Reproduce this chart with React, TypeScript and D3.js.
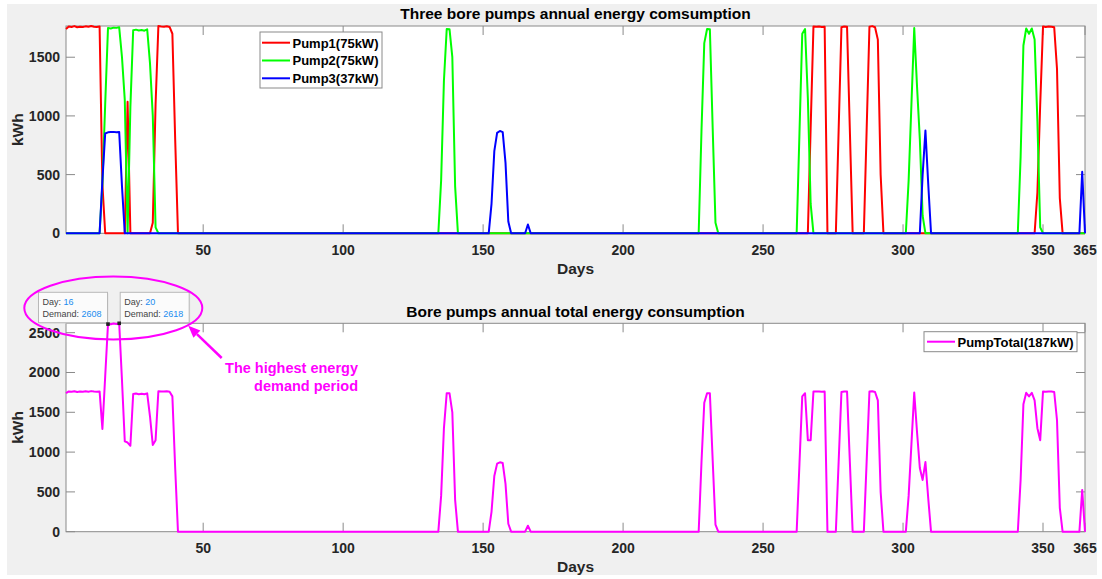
import React from 'react';
import * as d3 from 'd3';

const W = 1102;
const H = 579;

// runs of non-zero daily kWh: [first day, values for consecutive days]
const pump1Runs: [number, number[]][] = [
  [1, [1740, 1762, 1758, 1765, 1755, 1760, 1757, 1763, 1759, 1766, 1760, 1758, 1762, 420]],
  [23, [1120]],
  [32, [90, 1100, 1765, 1762, 1760, 1764, 1758, 1700, 800]],
  [267, [900, 1761, 1760, 1762, 1758, 1760]],
  [277, [880, 1755, 1762, 1760, 880]],
  [287, [880, 1760, 1765, 1755, 1650, 500]],
  [348, [350, 1100, 1761, 1758, 1762, 1760, 1755, 1400, 300]],
];
const pump2Runs: [number, number[]][] = [
  [14, [420, 1100, 1748, 1745, 1752, 1750, 1755, 1500, 1134]],
  [24, [1079, 1730, 1735, 1728, 1732, 1726, 1738, 1450, 1000, 50]],
  [135, [450, 1300, 1740, 1738, 1500, 400]],
  [228, [870, 1620, 1740, 1738, 900, 90]],
  [263, [850, 1700, 1740, 1150, 250]],
  [302, [450, 1100, 1748, 1250, 800, 150]],
  [342, [650, 1600, 1745, 1700, 1745, 1650, 950, 50]],
];
const pump3Runs: [number, number[]][] = [
  [14, [450, 850, 860, 862, 864, 860, 863, 400]],
  [153, [250, 700, 855, 872, 862, 600, 100]],
  [166, [75]],
  [307, [500, 875, 420]],
  [364, [525]],
];

const pumpNames = ['Pump1(75kW)', 'Pump2(75kW)', 'Pump3(37kW)'];
const pumpColors = ['#ff0000', '#00ff00', '#0000ff'];
const totalName = 'PumpTotal(187kW)';
const totalColor = '#ff00ff';
const xTicks = [50, 100, 150, 200, 250, 300, 350, 365];
const yTicksTop = [0, 500, 1000, 1500];
const yTicksBottom = [0, 500, 1000, 1500, 2000, 2500];
const tipDays = [16, 20];

const days = d3.range(1, 366);
function expand(runs: [number, number[]][]) {
  const arr = days.map(() => 0);
  runs.forEach(([start, vals]) => vals.forEach((v, i) => (arr[start - 1 + i] = v)));
  return arr;
}
const pumps = [expand(pump1Runs), expand(pump2Runs), expand(pump3Runs)];
const total = days.map((d, i) => pumps[0][i] + pumps[1][i] + pumps[2][i]);

const FONT = "Arial, 'Liberation Sans', Helvetica, sans-serif";
const AX = '#8a8a8a';
const TXT = '#262626';
const L = 66, R = 1085;

const x = d3.scaleLinear().domain([1, 365]).range([L, R]);

function Frame({ y, top, bottom, ticks, title, titleY }: any) {
  const tl = 9;
  return (
    <g>
      <rect x={L} y={top} width={R - L} height={bottom - top} fill="#fff" />
      <rect x={L} y={top} width={R - L} height={bottom - top} fill="none" stroke={AX} strokeWidth={1} />
      {xTicks.map((t) => (
        <g key={'x' + t}>
          <line x1={x(t)} x2={x(t)} y1={bottom} y2={bottom - tl} stroke={AX} />
          <line x1={x(t)} x2={x(t)} y1={top} y2={top + tl} stroke={AX} />
          <text x={x(t)} y={bottom + 21.5} textAnchor="middle" fontSize={14} fontWeight="bold" fill={TXT}>
            {t}
          </text>
        </g>
      ))}
      {ticks.map((t: number) => (
        <g key={'y' + t}>
          <line x1={L} x2={L + tl} y1={y(t)} y2={y(t)} stroke={AX} />
          <line x1={R} x2={R - tl} y1={y(t)} y2={y(t)} stroke={AX} />
          <text x={L - 6} y={y(t) + 5} textAnchor="end" fontSize={14} fontWeight="bold" fill={TXT}>
            {t}
          </text>
        </g>
      ))}
      <text x={(L + R) / 2} y={titleY} textAnchor="middle" fontSize={15.5} fontWeight="bold" fill="#000">
        {title}
      </text>
      <text x={(L + R) / 2} y={bottom + 40.5} textAnchor="middle" fontSize={15.5} fontWeight="bold" fill={TXT}>
        Days
      </text>
      <text
        transform={`translate(23,${(top + bottom) / 2}) rotate(-90)`}
        textAnchor="middle"
        fontSize={15.5}
        fontWeight="bold"
        fill={TXT}
      >
        kWh
      </text>
    </g>
  );
}

export default function App() {
  const yTop = d3.scaleLinear().domain([0, d3.max(pumps.flat()) as number]).range([233.3, 26]);
  const yBot = d3.scaleLinear().domain([0, d3.max(total) as number]).range([531.7, 323.3]);
  const lineTop = d3.line<number>().x((_, i) => x(days[i])).y((v) => yTop(v));
  const lineBot = d3.line<number>().x((_, i) => x(days[i])).y((v) => yBot(v));

  // arrow geometry
  const a0 = [221.7, 358];
  const a1 = [188.3, 325.7];
  const dx = a1[0] - a0[0], dy = a1[1] - a0[1];
  const len = Math.hypot(dx, dy);
  const ux = dx / len, uy = dy / len;
  const hb = [a1[0] - ux * 12, a1[1] - uy * 12];
  const head = `${a1[0]},${a1[1]} ${hb[0] - uy * 5},${hb[1] + ux * 5} ${hb[0] + uy * 5},${hb[1] - ux * 5}`;

  return (
    <svg
      width={W}
      height={H}
      style={{ position: 'absolute', left: 0, top: 0, fontFamily: FONT }}
    >
      <rect width={W} height={H} fill="#fff" />
      <rect x={7} y={4} width={1090} height={571} fill="#f0f0f0" />

      <Frame y={yTop} top={26} bottom={233.3} ticks={yTicksTop} title="Three bore pumps annual energy comsumption" titleY={18.5} />
      {pumps.map((p, k) => (
        <path key={k} d={lineTop(p) || ''} fill="none" stroke={pumpColors[k]} strokeWidth={2} strokeLinejoin="round" />
      ))}
      <g>
        <rect x={260} y={32} width={122} height={56} fill="#fff" stroke="#8a8a8a" />
        {pumpNames.map((n, k) => (
          <g key={n}>
            <line x1={262} x2={290} y1={42.7 + k * 17.8} y2={42.7 + k * 17.8} stroke={pumpColors[k]} strokeWidth={2} />
            <text x={292.5} y={47.5 + k * 17.8} fontSize={13} fontWeight="bold" fill="#000">
              {n}
            </text>
          </g>
        ))}
      </g>

      <Frame y={yBot} top={323.3} bottom={531.7} ticks={yTicksBottom} title="Bore pumps annual total energy consumption" titleY={316.5} />
      <path d={lineBot(total) || ''} fill="none" stroke={totalColor} strokeWidth={2} strokeLinejoin="round" />
      <g>
        <rect x={924} y={331.7} width={153} height={20} fill="#fff" stroke="#8a8a8a" />
        <line x1={927} x2={955} y1={341.7} y2={341.7} stroke={totalColor} strokeWidth={2} />
        <text x={957.5} y={346.5} fontSize={13} fontWeight="bold" fill="#000">
          {totalName}
        </text>
      </g>

      {tipDays.map((d, k) => {
        const px = x(d);
        const py = yBot(total[d - 1]);
        const bx = k === 0 ? px - 69.5 : px + 1;
        return (
          <g key={d}>
            <rect x={bx + 1} y={293.3} width={69} height={30.4} fill="#d8d8d8" opacity={0.6} />
            <rect x={bx} y={292.3} width={69} height={30.4} fill="#fbfbfb" stroke="#b8b8b8" />
            <text x={bx + 4} y={305} fontSize={9} fill="#444">
              Day: <tspan fill="#1a8cf0">{d}</tspan>
            </text>
            <text x={bx + 4} y={316.5} fontSize={9} fill="#444">
              Demand: <tspan fill="#1a8cf0">{total[d - 1]}</tspan>
            </text>
            <rect x={px - 1.8} y={py - 1.8} width={3.6} height={3.6} fill="#222" />
          </g>
        );
      })}

      <ellipse cx={113.3} cy={308} rx={89} ry={31.5} fill="none" stroke={totalColor} strokeWidth={2} />
      <line x1={a0[0]} y1={a0[1]} x2={hb[0]} y2={hb[1]} stroke={totalColor} strokeWidth={2.5} />
      <polygon points={head} fill={totalColor} />
      <text x={358} y={372.5} textAnchor="end" fontSize={14.5} fontWeight="bold" fill={totalColor}>
        The highest energy
      </text>
      <text x={358} y={391} textAnchor="end" fontSize={14.5} fontWeight="bold" fill={totalColor}>
        demand period
      </text>
    </svg>
  );
}
